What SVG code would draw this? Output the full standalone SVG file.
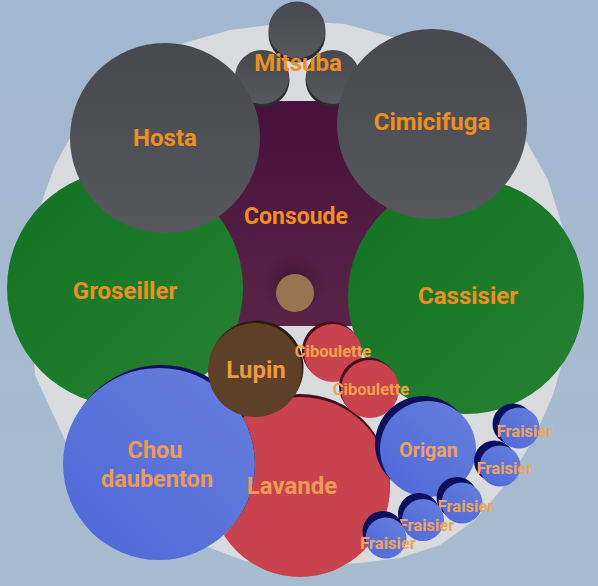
<svg xmlns="http://www.w3.org/2000/svg" width="598" height="586" viewBox="0 0 598 586">
<defs>
<linearGradient id="bg" x1="0" y1="0" x2="0" y2="1"><stop offset="0" stop-color="#a2b7d1"/><stop offset="1" stop-color="#a8bccf"/></linearGradient>
<linearGradient id="gGray" x1="0" y1="0" x2="0" y2="1"><stop offset="0" stop-color="#47494e"/><stop offset="1" stop-color="#56585d"/></linearGradient>
<linearGradient id="gGreen" x1="0" y1="0" x2="1" y2="1"><stop offset="0" stop-color="#127222"/><stop offset="1" stop-color="#268233"/></linearGradient>
<linearGradient id="gPurple" x1="0" y1="0" x2="0" y2="1"><stop offset="0" stop-color="#48103a"/><stop offset="1" stop-color="#5a2448"/></linearGradient>
<linearGradient id="gBlue" x1="0" y1="1" x2="1" y2="0"><stop offset="0" stop-color="#4f67d8"/><stop offset="1" stop-color="#6680dc"/></linearGradient>
<radialGradient id="halo"><stop offset="0" stop-color="#000" stop-opacity="0.3"/><stop offset="1" stop-color="#000" stop-opacity="0"/></radialGradient>
<mask id="noChou" maskUnits="userSpaceOnUse" x="0" y="0" width="598" height="586">
<rect width="598" height="586" fill="#fff"/>
<circle cx="159" cy="464" r="96" fill="#000"/>
</mask>
<style>
.t{font-family:Roboto,"Liberation Sans",sans-serif;font-weight:700;text-anchor:middle}
.big{font-size:24px;fill:#ef8f22}
.mid{font-size:23.5px;fill:#ee9b55}
.sm{font-size:16.5px;fill:#f0a45c}
.cib{font-size:16.5px;fill:#f1a446}
.gray{fill:url(#gGray)}
.green{fill:url(#gGreen)}
.red{fill:#c9434f}
.blue{fill:url(#gBlue)}
.navy{fill:#0b0f5c}
.maroon{fill:#4a0d1a}
.dk{fill:#2a2c30}
</style>
</defs>
<rect width="598" height="586" fill="url(#bg)"/>
<polygon fill="#d9dbde" points="300,21 345,24 392,37 440,58 485,90 520,130 548,180 565,235 574,300 566,350 553,395 533,440 507,483 475,520 440,545 400,558 360,563 300,566 245,561 205,546 160,520 110,480 65,440 35,375 30,300 37,215 55,165 80,120 120,80 170,47 230,30"/>

<g id="consoude">
<rect x="200" y="101" width="195" height="225" fill="url(#gPurple)"/>
<circle cx="294" cy="284" r="32" fill="url(#halo)"/>
<circle cx="295" cy="293" r="19" fill="#987550"/>
<text class="t big" x="296" y="224" style="font-size:23px">Consoude</text>
</g>

<g id="mitsuba">
<circle cx="262.5" cy="80" r="27" class="dk"/>
<circle cx="332.5" cy="80" r="27" class="dk"/>
<circle cx="262" cy="77" r="27" class="gray"/>
<circle cx="333" cy="77" r="27" class="gray"/>
<circle cx="297" cy="34" r="28.5" class="dk"/>
<circle cx="297" cy="30" r="28.5" class="gray"/>
<text class="t big" x="298" y="71">Mitsuba</text>
</g>

<g id="groseiller">
<circle cx="125" cy="288" r="118" class="green"/>
<text class="t big" x="125" y="299">Groseiller</text>
</g>
<g id="cassisier">
<circle cx="466" cy="296" r="118" class="green"/>
<text class="t big" x="468" y="304">Cassisier</text>
</g>
<g id="hosta">
<circle cx="165" cy="138" r="95" class="gray"/>
<text class="t big" x="165" y="146">Hosta</text>
</g>
<g id="cimicifuga">
<circle cx="432" cy="124" r="95" class="gray"/>
<text class="t big" x="432" y="130">Cimicifuga</text>
</g>

<g id="chou-daubenton">
<circle cx="161.5" cy="461" r="96" class="navy"/>
<circle cx="159" cy="464" r="96" class="blue"/>
<text class="t mid" x="155" y="458">Chou</text>
<text class="t mid" x="157" y="487">daubenton</text>
</g>

<g id="lavande">
<g mask="url(#noChou)">
<circle cx="300" cy="484" r="90" class="maroon"/>
<circle cx="300" cy="487" r="90" class="red"/>
</g>
<text class="t mid" x="292" y="494" style="font-size:24px">Lavande</text>
</g>

<g id="lupin">
<circle cx="256.5" cy="367.5" r="47" fill="#2c1c10"/>
<circle cx="255" cy="370" r="47" fill="#5e3f27"/>
<text class="t big" x="256" y="378" style="fill:#eb9a45">Lupin</text>
</g>

<g id="ciboulette-1">
<circle cx="331" cy="350.5" r="29" class="maroon"/>
<circle cx="333" cy="353" r="29" class="red"/>
<text class="t cib" x="333" y="357">Ciboulette</text>
</g>
<g id="ciboulette-2">
<circle cx="368" cy="386.5" r="29" class="maroon"/>
<circle cx="370" cy="389" r="29" class="red"/>
<text class="t cib" x="371" y="395">Ciboulette</text>
</g>

<g id="origan">
<circle cx="423" cy="444" r="48" class="navy"/>
<circle cx="428" cy="449" r="48" class="blue"/>
<text class="t" x="428.5" y="457" style="font-size:19.5px;fill:#f0a060">Origan</text>
</g>

<g id="fraisier-1">
<circle cx="513" cy="424" r="20.5" class="navy"/>
<circle cx="519" cy="428" r="20.5" class="blue"/>
<text class="t sm" x="524.5" y="437">Fraisier</text>
</g>
<g id="fraisier-2">
<circle cx="494.5" cy="461" r="20.5" class="navy"/>
<circle cx="500" cy="466" r="20.5" class="blue"/>
<text class="t sm" x="504.5" y="474">Fraisier</text>
</g>
<g id="fraisier-3">
<circle cx="457" cy="497.5" r="20.5" class="navy"/>
<circle cx="462" cy="503" r="20.5" class="blue"/>
<text class="t sm" x="465.5" y="512">Fraisier</text>
</g>
<g id="fraisier-4">
<circle cx="419" cy="514" r="21" class="navy"/>
<circle cx="423" cy="520" r="21" class="blue"/>
<text class="t sm" x="426.5" y="531">Fraisier</text>
</g>
<g id="fraisier-5">
<circle cx="383" cy="531.5" r="20.5" class="navy"/>
<circle cx="386" cy="538" r="20.5" class="blue"/>
<text class="t sm" x="388" y="549">Fraisier</text>
</g>
<g id="connectors"/>
</svg>
